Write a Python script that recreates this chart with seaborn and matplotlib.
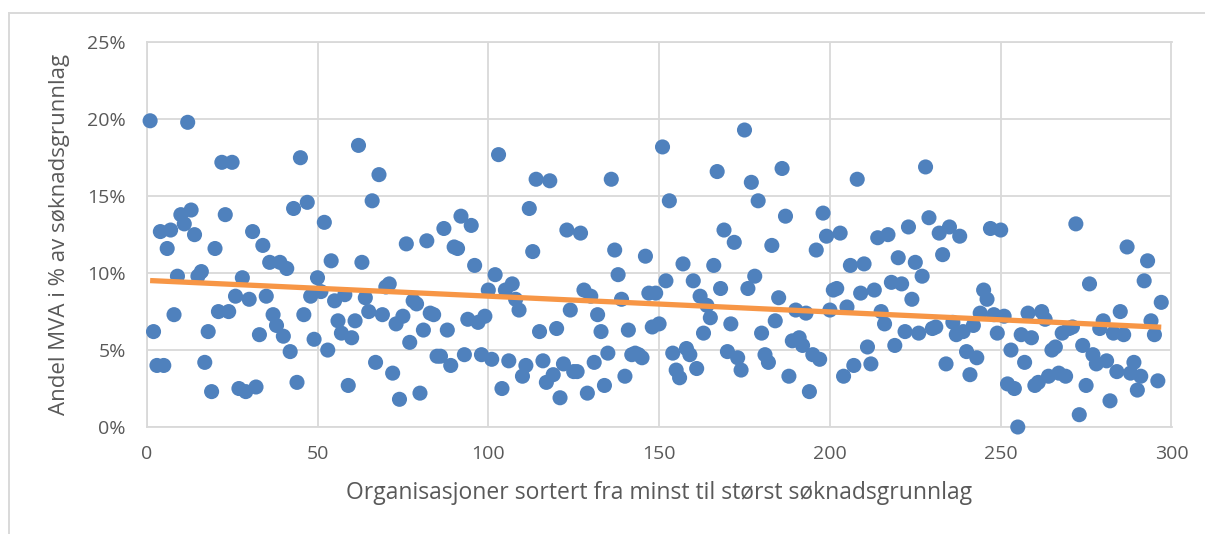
import matplotlib
matplotlib.use("Agg")
import matplotlib.pyplot as plt
import matplotlib.patches as patches
from matplotlib.ticker import PercentFormatter
import seaborn as sns
import numpy as np
import pandas as pd

# Andel MVA i % av søknadsgrunnlag, organisasjoner sortert fra minst til størst
mva_share = [
    19.9, 6.2, 4.0, 12.7, 4.0, 11.6, 12.8, 7.3, 9.8, 13.8, 13.2, 19.8, 14.1, 12.5, 9.8, 10.1, 4.2, 6.2, 2.3, 11.6,
    7.5, 17.2, 13.8, 7.5, 17.2, 8.5, 2.5, 9.7, 2.3, 8.3, 12.7, 2.6, 6.0, 11.8, 8.5, 10.7, 7.3, 6.6, 10.7, 5.9,
    10.3, 4.9, 14.2, 2.9, 17.5, 7.3, 14.6, 8.5, 5.7, 9.7,
    8.8, 13.3, 5.0, 10.8, 8.2, 6.9, 6.1, 8.6, 2.7, 5.8, 6.9, 18.3, 10.7, 8.4, 7.5, 14.7, 4.2, 16.4, 7.3, 9.1,
    9.3, 3.5, 6.7, 1.8, 7.2, 11.9, 5.5, 8.2, 8.0, 2.2, 6.3, 12.1, 7.4, 7.3, 4.6, 4.6, 12.9, 6.3, 4.0, 11.7,
    11.6, 13.7, 4.7, 7.0, 13.1, 10.5, 6.8, 4.7, 7.2, 8.9,
    4.4, 9.9, 17.7, 2.5, 8.9, 4.3, 9.3, 8.3, 7.6, 3.3, 4.0, 14.2, 11.4, 16.1, 6.2, 4.3, 2.9, 16.0, 3.4, 6.4,
    1.9, 4.1, 12.8, 7.6, 3.6, 3.6, 12.6, 8.9, 2.2, 8.5, 4.2, 7.3, 6.2, 2.7, 4.8, 16.1, 11.5, 9.9, 8.3, 3.3,
    6.3, 4.7, 4.8, 4.7, 4.5, 11.1, 8.7, 6.5, 8.7,
    6.7, 18.2, 9.5, 14.7, 4.8, 3.7, 3.2, 10.6, 5.1, 4.7, 9.5, 3.8, 8.5, 6.1, 7.9, 7.1, 10.5, 16.6, 9.0, 12.8,
    4.9, 6.7, 12.0, 4.5, 3.7, 19.3, 9.0, 15.9, 9.8, 14.7, 6.1, 4.7, 4.2, 11.8, 6.9, 8.4, 16.8, 13.7, 3.3, 5.6,
    7.6, 5.8, 5.3, 7.4, 2.3, 4.7, 11.5, 4.4, 13.9, 12.4,
    7.6, 8.9, 9.0, 12.6, 3.3, 7.8, 10.5, 4.0, 16.1, 8.7, 10.6, 5.2, 4.1, 8.9, 12.3, 7.5, 6.7, 12.5, 9.4, 5.3,
    11.0, 9.3, 6.2, 13.0, 8.3, 10.7, 6.1, 9.8, 16.9, 13.6, 6.4, 6.5, 12.6, 11.2, 4.1, 13.0, 6.8, 6.0, 12.4, 6.2,
    4.9, 3.4, 6.6, 4.5, 7.4, 8.9, 8.3,
    12.9, 7.3, 6.1, 12.8, 7.2, 2.8, 5.0, 2.5, 0.0, 6.0, 4.2, 7.4, 5.8, 2.7, 2.9, 7.5, 7.0, 3.3, 5.0, 5.2,
    3.5, 6.1, 3.3, 6.4, 6.5, 13.2, 0.8, 5.3, 2.7, 9.3, 4.7, 4.1, 6.4, 6.9, 4.3, 1.7, 6.1, 3.6, 7.5, 6.0,
    11.7, 3.5, 4.2, 2.4, 3.3, 9.5, 10.8, 6.9, 6.0, 3.0, 8.1,
]
x_ticks = [0, 50, 100, 150, 200, 250, 300]
y_ticks = [0, 5, 10, 15, 20, 25]
x_label = "Organisasjoner sortert fra minst til størst søknadsgrunnlag"
y_label = "Andel MVA i % av søknadsgrunnlag"

df = pd.DataFrame({"org": np.arange(1, len(mva_share) + 1), "mva": mva_share})

sns.set_style("white")
plt.rcParams["font.family"] = ["Open Sans", "DejaVu Sans"]

text_color = "#595959"
grid_color = "#d9d9d9"

fig = plt.figure(figsize=(12.05, 5.34), dpi=100)
ax = fig.add_axes([146.7 / 1205, 1 - 427 / 534, (1171.5 - 146.7) / 1205, (427 - 42.3) / 534])

# outer chart border (Excel style)
fig.patches.append(patches.Rectangle((8.5 / 1205, -0.1), 1.2, 1 - 12.7 / 534 + 0.1, transform=fig.transFigure,
                                     fill=False, edgecolor=grid_color, linewidth=1.4))

ax.grid(True, color=grid_color, linewidth=1.3)
ax.set_axisbelow(True)
for s in ax.spines.values():
    s.set_color(grid_color)
    s.set_linewidth(1.3)

sns.scatterplot(data=df, x="org", y="mva", ax=ax, color="#4f81bd", s=118, edgecolor="none",
                linewidth=0, clip_on=False, zorder=3)
sns.regplot(data=df, x="org", y="mva", ax=ax, scatter=False, ci=None, truncate=True,
            line_kws={"color": "#f79646", "linewidth": 3.8, "zorder": 4, "solid_capstyle": "butt"})

ax.set_xlim(x_ticks[0], x_ticks[-1])
ax.set_ylim(y_ticks[0], y_ticks[-1])
ax.set_xticks(x_ticks)
ax.set_yticks(y_ticks)
ax.yaxis.set_major_formatter(PercentFormatter(xmax=100, decimals=0))

ax.tick_params(axis="both", length=0, labelsize=14, labelcolor=text_color)
ax.tick_params(axis="y", pad=15)
ax.tick_params(axis="x", pad=13)
ax.set_xlabel(x_label, fontsize=16.5, color=text_color, labelpad=13)
ax.set_ylabel(y_label, fontsize=16, color=text_color, labelpad=12)

fig.savefig("out.png", dpi=100)
